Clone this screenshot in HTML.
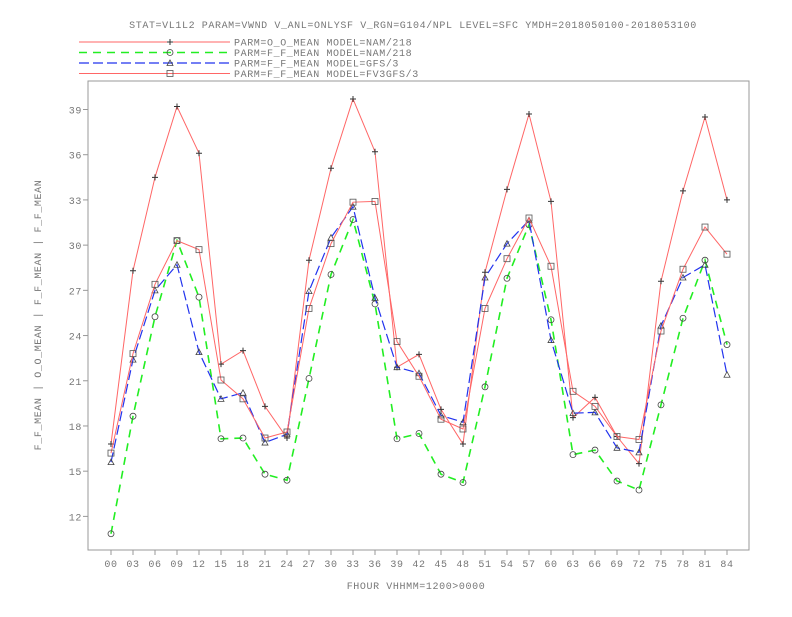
<!DOCTYPE html>
<html><head><meta charset="utf-8"><style>
body{margin:0;background:#fff}
svg text{font-family:"Liberation Mono",monospace;fill:#777;font-size:10px}
</style></head><body>
<svg id="chart" width="792" height="612" xmlns="http://www.w3.org/2000/svg">
<rect width="792" height="612" fill="#fff"/>
<text x="413" y="28" text-anchor="middle" letter-spacing="0.6">STAT=VL1L2 PARAM=VWND V_ANL=ONLYSF V_RGN=G104/NPL LEVEL=SFC YMDH=2018050100-2018053100</text>
<g id="legend"></g>
<rect x="88" y="81" width="661" height="469" fill="none" stroke="#999" stroke-width="1"/>
<g id="axes"></g>
<g id="series"></g>
<text transform="translate(41,315) rotate(-90)" text-anchor="middle" letter-spacing="0.6">F_F_MEAN | O_O_MEAN | F_F_MEAN | F_F_MEAN</text>
<text x="416" y="589" text-anchor="middle" letter-spacing="0.6">FHOUR VHHMM=1200&gt;0000</text>
</svg>
<script>
const categories=["00","03","06","09","12","15","18","21","24","27","30","33","36","39","42","45","48","51","54","57","60","63","66","69","72","75","78","81","84"];
const yTicks=[12,15,18,21,24,27,30,33,36,39];
const obsMean=[16.8,28.3,34.5,39.2,36.1,22.1,23.0,19.3,17.2,29.0,35.1,39.7,36.2,21.9,22.75,19.1,16.8,28.2,33.7,38.7,32.9,18.55,19.9,17.3,15.5,27.6,33.6,38.5,33.0];
const namMean=[10.85,18.65,25.25,30.3,26.55,17.15,17.2,14.8,14.4,21.15,28.05,31.7,26.1,17.15,17.5,14.8,14.25,20.6,27.8,31.35,25.05,16.1,16.4,14.35,13.75,19.4,25.15,29.0,23.4];
const gfsMean=[15.6,22.4,27.0,28.7,22.9,19.8,20.2,16.9,17.45,26.95,30.5,32.55,26.5,21.9,21.5,18.7,18.25,27.85,30.1,31.65,23.7,18.85,18.9,16.55,16.25,24.65,27.85,28.7,21.4];
const fv3Mean=[16.2,22.8,27.4,30.3,29.7,21.05,19.8,17.2,17.6,25.8,30.1,32.85,32.9,23.6,21.3,18.45,17.8,25.8,29.1,31.8,28.6,20.3,19.3,17.3,17.1,24.3,28.4,31.2,29.4];
const seriesLabels=["PARM=O_O_MEAN MODEL=NAM/218","PARM=F_F_MEAN MODEL=NAM/218","PARM=F_F_MEAN MODEL=GFS/3","PARM=F_F_MEAN MODEL=FV3GFS/3"];

const NS="http://www.w3.org/2000/svg";
function xPos(i){return 111+i*22;}
function yPos(v){return 109.5+(39-v)*15.07;}
function mk(tag,attrs,parent){const e=document.createElementNS(NS,tag);for(const k in attrs)e.setAttribute(k,attrs[k]);parent.appendChild(e);return e;}
const axes=document.getElementById('axes');
categories.forEach((c,i)=>{
  const t=mk('line',{x1:xPos(i),x2:xPos(i),y1:550,y2:555,stroke:'#999'},axes);
  
  
  const l=mk('text',{x:xPos(i),y:567,'text-anchor':'middle','letter-spacing':'0.6'},axes);
  
  
  l.textContent=c;
});
yTicks.forEach(v=>{
  const t=mk('line',{x1:83,x2:88,y1:yPos(v),y2:yPos(v),stroke:'#999'},axes);
  
  
  const l=mk('text',{x:82,y:yPos(v)+4,'text-anchor':'end','letter-spacing':'0.6'},axes);
  
  
  l.textContent=v;
});
const styles=[
  {data:obsMean,color:'#ff6666',dash:'',w:1,marker:'plus',name:'obs-mean-line'},
  {data:namMean,color:'#22ee22',dash:'8,6',w:1.6,marker:'circle',name:'nam-mean-line'},
  {data:gfsMean,color:'#2233ee',dash:'10,4',w:1.2,marker:'tri',name:'gfs-mean-line'},
  {data:fv3Mean,color:'#ff6666',dash:'',w:1,marker:'box',name:'fv3-mean-line'}
];
function marker(type,x,y,parent){
  let e;
  if(type==='plus'){e=mk('path',{d:`M${x-3},${y}h6M${x},${y-3}v6`,stroke:'#333','stroke-width':1,fill:'none'},parent);}
  else if(type==='circle'){e=mk('circle',{cx:x,cy:y,r:3,stroke:'#444','stroke-width':0.8,fill:'none'},parent);}
  else if(type==='tri'){e=mk('path',{d:`M${x-3},${y+2.5}L${x},${y-3}L${x+3},${y+2.5}Z`,stroke:'#444','stroke-width':0.8,fill:'none'},parent);}
  else {e=mk('rect',{x:x-3,y:y-3,width:6,height:6,stroke:'#555','stroke-width':0.8,fill:'none'},parent);}
  return e;
}
const sg=document.getElementById('series');
const lg=document.getElementById('legend');
styles.forEach((s,k)=>{
  const pts=s.data.map((v,i)=>xPos(i)+','+yPos(v)).join(' ');
  const pl=mk('polyline',{points:pts,fill:'none',stroke:s.color,'stroke-width':s.w,'stroke-dasharray':s.dash},sg);
  
  
  s.data.forEach((v,i)=>{
    const m=marker(s.marker,xPos(i),yPos(v),sg);
    
    
  });
  const ly=42+k*10.5;
  const ll=mk('line',{x1:79,x2:230,y1:ly,y2:ly,stroke:s.color,'stroke-width':s.w,'stroke-dasharray':s.dash},lg);
  
  
  const lm=marker(s.marker,170,ly,lg);
  
  
  const lt=mk('text',{x:234,y:ly+3.5,'letter-spacing':'0.6'},lg);
  
  
  lt.textContent=seriesLabels[k];
});
</script>
</body></html>
